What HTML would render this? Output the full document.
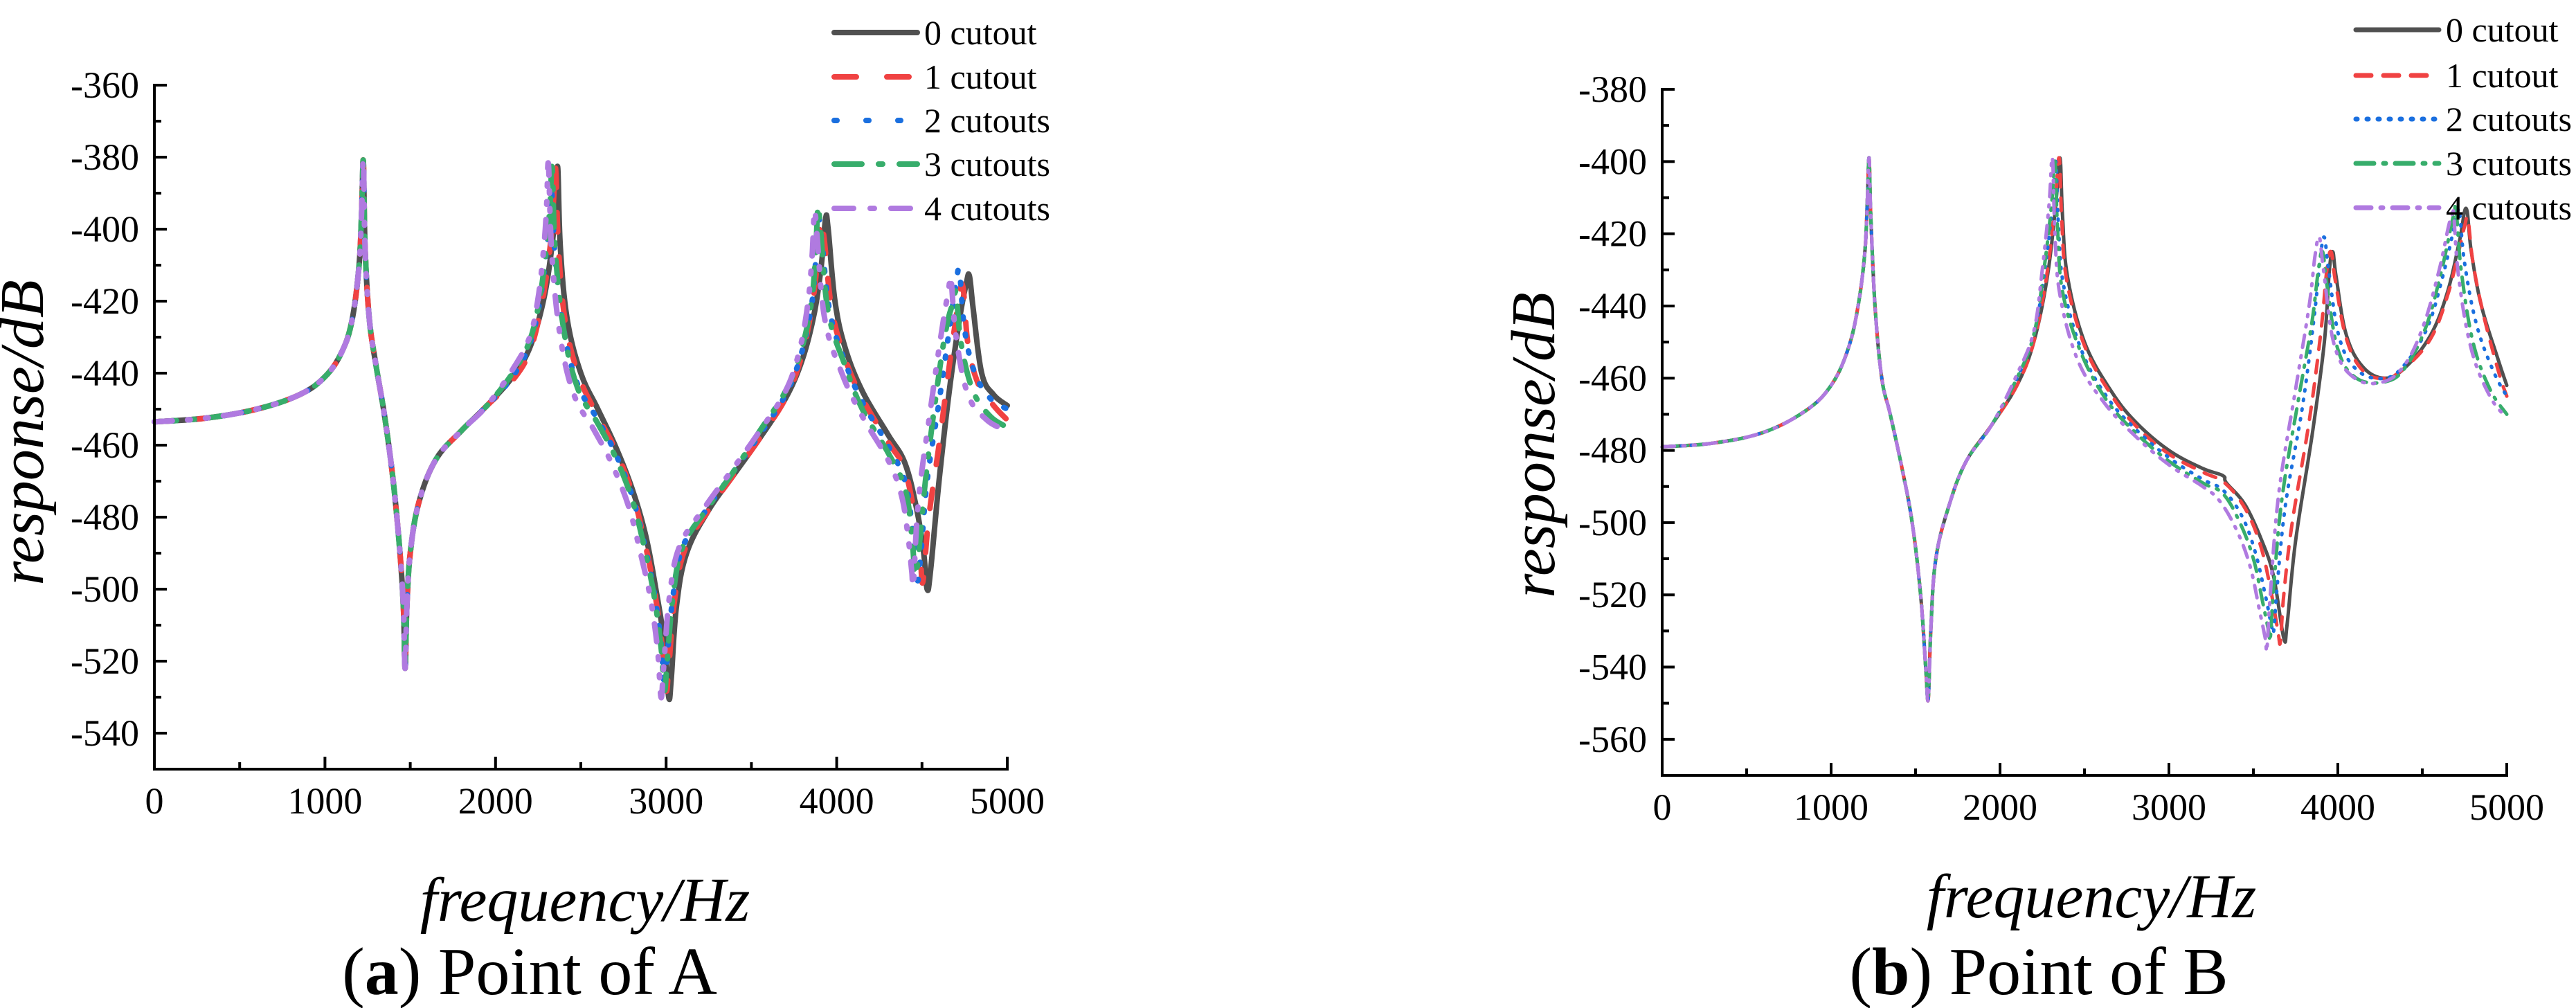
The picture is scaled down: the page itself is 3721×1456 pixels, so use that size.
<!DOCTYPE html>
<html><head><meta charset="utf-8">
<style>
html,body{margin:0;padding:0;background:#fff;}
svg{display:block;}
text,tspan{font-family:'Liberation Serif',serif;}
</style></head>
<body>
<svg id="fig" width="3721" height="1456" viewBox="0 0 3721 1456" xmlns="http://www.w3.org/2000/svg" style="font-family:'Liberation Serif',serif">
<g id="chartA"></g>
<g id="chartB"></g>
<text x="765" y="1436" font-size="98" style="font-family:'Liberation Serif',serif" text-anchor="middle">(<tspan font-weight="bold">a</tspan>) Point of A</text>
<text x="2945" y="1436" font-size="98" style="font-family:'Liberation Serif',serif" text-anchor="middle">(<tspan font-weight="bold">b</tspan>) Point of B</text>
</svg>
<script>
// ---------- data ----------
const seriesNames = ["0 cutout","1 cutout","2 cutouts","3 cutouts","4 cutouts"];
const xTicks = [0,1000,2000,3000,4000,5000];
const yTicksA = [-360,-380,-400,-420,-440,-460,-480,-500,-520,-540];
const yTicksB = [-380,-400,-420,-440,-460,-480,-500,-520,-540,-560];

// Chart A shared low-frequency part
const aLowFreq = [0,300,600,850,1000,1100,1160,1200,1215,1225,1235,1260,1300,1350,1400,1440,1460,1470,1480,1500,1550,1650,1800,1950];
const aLowDb   = [-453.5,-452.5,-450,-446,-441,-434,-425,-410,-395,-381,-405,-425,-438,-452,-470,-490,-505,-522,-505,-490,-476,-464,-456,-449];

const a0Freq = [2100,2200,2280,2330,2355,2365,2380,2420,2500,2600,2700,2800,2880,2940,2990,3015,3030,3060,3120,3250,3400,3550,3700,3800,3870,3910,3935,3950,3990,4050,4150,4300,4400,4470,4510,4530,4550,4600,4660,4720,4760,4778,4800,4850,4920,5000];
const a0Db   = [-441,-433,-420,-405,-392,-383,-405,-425,-440,-450,-460,-472,-485,-500,-515,-530,-525,-505,-490,-478,-468,-458,-447,-436,-423,-410,-397,-400,-420,-433,-445,-457,-465,-478,-490,-500,-495,-470,-445,-425,-415,-413,-422,-440,-446,-449];
const a1Freq = [2100,2200,2270,2320,2340,2352,2370,2410,2490,2600,2700,2800,2870,2930,2975,3000,3015,3050,3110,3250,3400,3550,3700,3790,3850,3885,3905,3925,3970,4050,4150,4300,4400,4470,4490,4505,4540,4600,4660,4715,4740,4770,4830,4920,5000];
const a1Db   = [-442,-434,-421,-405,-392,-383,-406,-426,-441,-452,-461,-473,-486,-500,-515,-528,-522,-503,-489,-478,-468,-458,-447,-436,-423,-410,-398,-402,-422,-436,-447,-459,-467,-483,-490,-498,-480,-460,-438,-420,-416,-432,-443,-449,-453];
const a2Freq = [2100,2200,2260,2300,2320,2330,2350,2400,2480,2600,2700,2800,2870,2930,2970,2990,3005,3040,3100,3250,3400,3550,3700,3790,3850,3875,3890,3910,3960,4050,4150,4300,4400,4440,4470,4490,4530,4600,4660,4700,4720,4750,4810,4900,5000];
const a2Db   = [-441,-432,-420,-405,-395,-390,-408,-428,-443,-453,-462,-474,-487,-501,-515,-527,-520,-502,-488,-477,-467,-457,-446,-435,-422,-410,-397,-402,-423,-437,-448,-460,-470,-482,-497,-492,-470,-448,-428,-415,-412,-428,-440,-447,-450];
const a3Freq = [2100,2200,2260,2300,2320,2332,2350,2400,2480,2600,2700,2800,2870,2930,2970,2990,3005,3040,3100,3250,3400,3550,3700,3790,3850,3875,3890,3905,3950,4050,4150,4300,4400,4440,4460,4480,4520,4580,4640,4685,4700,4730,4800,4900,5000];
const a3Db   = [-440,-431,-419,-404,-393,-383,-406,-428,-444,-454,-463,-475,-488,-502,-516,-528,-521,-502,-488,-477,-467,-456,-445,-434,-421,-408,-394,-400,-423,-438,-450,-462,-472,-485,-496,-490,-470,-447,-428,-420,-418,-432,-445,-452,-455];
const a4Freq = [2100,2200,2250,2285,2300,2310,2330,2380,2460,2580,2680,2780,2850,2910,2950,2970,2985,3020,3080,3230,3400,3550,3700,3780,3830,3855,3870,3885,3930,4030,4150,4300,4380,4420,4440,4450,4480,4550,4610,4655,4670,4700,4770,4880,5000];
const a4Db   = [-439,-430,-419,-404,-393,-382,-407,-430,-446,-456,-465,-477,-490,-503,-517,-530,-522,-502,-488,-477,-466,-456,-445,-434,-421,-408,-395,-402,-425,-440,-452,-464,-474,-486,-495,-498,-475,-450,-430,-417,-414,-430,-446,-453,-456];

// Chart B shared low part
const bLowFreq = [0,300,600,850,1000,1100,1160,1200,1215,1225,1235,1260,1300,1350,1420,1480,1530,1560,1575,1590,1620,1700,1800,1950];
const bLowDb   = [-479,-478,-475,-469,-462,-452,-440,-425,-410,-399,-415,-440,-460,-470,-485,-500,-520,-540,-549,-530,-510,-495,-483,-473];

const b0Freq = [2100,2200,2280,2330,2355,2370,2400,2500,2650,2800,3000,3200,3320,3340,3450,3550,3620,3680,3700,3750,3850,3920,3950,3970,3990,4050,4150,4280,4400,4550,4650,4720,4760,4790,4850,4950,5000];
const b0Db   = [-462,-450,-432,-412,-399,-415,-432,-450,-463,-472,-480,-485,-487,-489,-495,-505,-515,-532,-528,-505,-475,-450,-430,-425,-432,-448,-457,-460,-457,-448,-436,-422,-413,-425,-440,-455,-462];
const b1Freq = [2100,2200,2275,2325,2350,2365,2395,2500,2650,2800,3000,3200,3330,3450,3540,3600,3645,3660,3680,3730,3830,3900,3935,3960,3985,4050,4150,4280,4400,4550,4650,4720,4750,4770,4800,4860,4950,5000];
const b1Db   = [-462,-450,-432,-412,-399,-416,-433,-451,-464,-473,-481,-486,-489,-496,-506,-518,-530,-533,-520,-500,-472,-447,-430,-425,-433,-449,-458,-460,-457,-449,-437,-424,-418,-416,-428,-442,-458,-465];
const b2Freq = [2100,2200,2265,2310,2330,2345,2375,2480,2630,2800,3000,3200,3320,3430,3510,3570,3605,3620,3640,3690,3790,3860,3895,3920,3945,4010,4120,4280,4400,4530,4620,4680,4705,4720,4750,4820,4920,5000];
const b2Db   = [-460,-448,-430,-412,-400,-417,-434,-452,-465,-474,-482,-488,-491,-498,-508,-520,-528,-530,-518,-495,-468,-443,-427,-421,-430,-449,-458,-460,-456,-446,-432,-420,-415,-414,-428,-445,-458,-465];
const b3Freq = [2100,2200,2260,2305,2325,2340,2370,2480,2630,2800,3000,3200,3320,3420,3500,3555,3590,3600,3620,3670,3770,3845,3885,3910,3935,4000,4110,4280,4400,4520,4610,4670,4690,4700,4730,4800,4900,5000];
const b3Db   = [-460,-448,-430,-412,-400,-418,-436,-453,-466,-475,-483,-489,-492,-500,-510,-522,-530,-532,-518,-493,-465,-445,-430,-425,-434,-452,-460,-461,-457,-446,-431,-418,-414,-413,-430,-450,-463,-470];
const b4Freq = [2100,2200,2250,2290,2310,2325,2355,2460,2620,2800,3000,3200,3300,3400,3480,3535,3570,3580,3600,3650,3750,3830,3865,3890,3915,3980,4100,4270,4400,4510,4600,4655,4675,4685,4715,4790,4900,5000];
const b4Db   = [-459,-447,-430,-412,-399,-420,-437,-455,-467,-476,-484,-490,-494,-502,-512,-524,-532,-535,-520,-492,-463,-440,-426,-421,-430,-451,-460,-461,-456,-445,-430,-418,-415,-414,-432,-452,-465,-471];

// ---------- drawing ----------
const NS = "http://www.w3.org/2000/svg";
const colors = ["#505050","#f04242","#1a6fdf","#37ad6b","#b07ae0"];
function mk(tag, attrs, parent){
  const e = document.createElementNS(NS, tag);
  for (const k in attrs) e.setAttribute(k, attrs[k]);
  if (tag === "text") e.style.fontFamily = "'Liberation Serif', serif";
  parent.appendChild(e);
  return e;
}
function smoothPath(pts){
  let d = "M" + pts[0][0].toFixed(1) + "," + pts[0][1].toFixed(1);
  for (let i = 0; i < pts.length - 1; i++){
    const p0 = pts[Math.max(0,i-1)], p1 = pts[i], p2 = pts[i+1], p3 = pts[Math.min(pts.length-1,i+2)];
    const t = 0.18;
    const c1 = [p1[0] + (p2[0]-p0[0])*t, p1[1] + (p2[1]-p0[1])*t];
    const c2 = [p2[0] - (p3[0]-p1[0])*t, p2[1] - (p3[1]-p1[1])*t];
    d += "C" + c1[0].toFixed(1)+","+c1[1].toFixed(1)+" "+c2[0].toFixed(1)+","+c2[1].toFixed(1)+" "+p2[0].toFixed(1)+","+p2[1].toFixed(1);
  }
  return d;
}
function drawChart(g, cfg){
  const X = f => cfg.x0 + (f - 0) / 5000 * (cfg.x1 - cfg.x0);
  const Y = v => cfg.yTop + (cfg.yMax - v) / (cfg.yMax - cfg.yMin) * (cfg.yBot - cfg.yTop);
  const sg = mk("g", {}, g);
  
  
  cfg.series.forEach((s, i) => {
    const f = cfg.lowF.concat(s.f), v = cfg.lowV.concat(s.v);
    const pts = f.map((fv, j) => [X(fv), Y(v[j])]);
    const p = mk("path", {d: smoothPath(pts), fill:"none", stroke: colors[i], "stroke-width": cfg.lw, "stroke-linecap":"round", "stroke-linejoin":"round"}, sg);
    if (cfg.dash[i]) p.setAttribute("stroke-dasharray", cfg.dash[i]);
    
    
  });
  const ax = mk("g", {stroke:"#000", "stroke-width":4, fill:"none"}, g);
  
  
  mk("path", {d:`M${cfg.x0},${cfg.yTop} V${cfg.yBot} H${cfg.x1}`, "stroke-linecap":"square"}, ax);
  for (let v = cfg.yMax; v >= cfg.yMin; v -= 10){
    const major = (v % 20) === 0;
    mk("line", {x1:cfg.x0, x2:cfg.x0 + (major?18:10), y1:Y(v), y2:Y(v)}, ax);
  }
  for (let f = 500; f <= 5000; f += 500){
    const major = (f % 1000) === 0;
    mk("line", {x1:X(f), x2:X(f), y1:cfg.yBot, y2:cfg.yBot - (major?18:10)}, ax);
  }
  cfg.yTicks.forEach(v => {
    const t = mk("text", {x: cfg.x0 - 22, y: Y(v) + 18, "font-size":54, "text-anchor":"end"}, g);
    t.textContent = String(v);
    
    
  });
  xTicks.forEach(f => {
    const t = mk("text", {x: X(f), y: cfg.yBot + 64, "font-size":54, "text-anchor":"middle"}, g);
    t.textContent = String(f);
    
    
  });
  const yt = mk("text", {x:0, y:0, "font-size":90, "font-style":"italic", "text-anchor":"middle", transform:`translate(${cfg.ytX},${cfg.ytY}) rotate(-90)`}, g);
  yt.textContent = "response/dB";
  
  
  const xt = mk("text", {x:cfg.xtX, y:cfg.xtY, "font-size":90, "font-style":"italic", "text-anchor":"middle"}, g);
  xt.textContent = "frequency/Hz";
  
  
  const lg = mk("g", {}, g);
  
  
  seriesNames.forEach((n, i) => {
    const y = cfg.legY[i];
    const l = mk("line", {x1:cfg.legX0, x2:cfg.legX1, y1:y, y2:y, stroke:colors[i], "stroke-width":cfg.legLw, "stroke-linecap":"round"}, lg);
    if (cfg.dash[i]) l.setAttribute("stroke-dasharray", cfg.legDash[i]);
    
    
    const t = mk("text", {x:cfg.legX1 + 10, y:y + 17, "font-size":50}, lg);
    t.textContent = n;
    
    
  });
}
drawChart(document.getElementById("chartA"), {
  x0:223, x1:1455, yTop:123, yBot:1111, yMax:-360, yMin:-550,
  lowF:aLowFreq, lowV:aLowDb,
  series:[{f:a0Freq,v:a0Db},{f:a1Freq,v:a1Db},{f:a2Freq,v:a2Db},{f:a3Freq,v:a3Db},{f:a4Freq,v:a4Db}],
  lw:8, dash:[null,"28 36","3 22","32 22 4 22","26 22 4 22 4 22"],
  legDash:[null,"32 44","4 42","40 24 6 24","28 24 6 24"],
  yTicks:yTicksA, ytX:62, ytY:625, xtX:845, xtY:1330,
  legX0:1205, legX1:1325, legY:[47,111,174,237,301], legLw:8
});
drawChart(document.getElementById("chartB"), {
  x0:2401, x1:3621, yTop:129, yBot:1120, yMax:-380, yMin:-570,
  lowF:bLowFreq, lowV:bLowDb,
  series:[{f:b0Freq,v:b0Db},{f:b1Freq,v:b1Db},{f:b2Freq,v:b2Db},{f:b3Freq,v:b3Db},{f:b4Freq,v:b4Db}],
  lw:5, dash:[null,"18 16","2 12","22 12 3 12","18 12 3 12 3 12"],
  legDash:[null,"22 18","2 14","26 14 3 14","22 14 3 14"],
  yTicks:yTicksB, ytX:2245, ytY:643, xtX:3021, xtY:1325,
  legX0:3403, legX1:3523, legY:[43,109,172,236,300], legLw:7
});
</script>
</body></html>
